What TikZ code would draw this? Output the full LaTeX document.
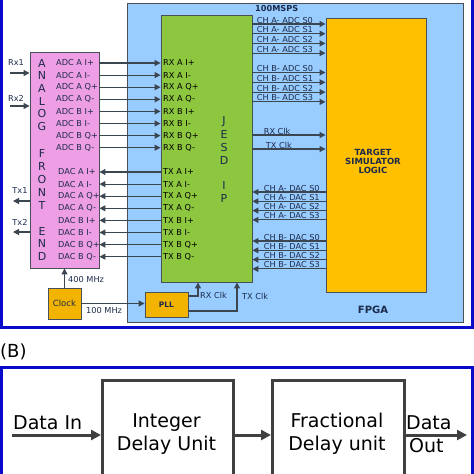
\documentclass[tikz,border=0pt]{standalone}
\usepackage{fontspec}
\setmainfont{DejaVu Sans}
\usetikzlibrary{arrows.meta}

\definecolor{Frame}{HTML}{0A0ACC}
\definecolor{Fpga}{HTML}{99CCFF}
\definecolor{Jesd}{HTML}{8DC63F}
\definecolor{Target}{HTML}{FFC000}
\definecolor{Afe}{HTML}{EE9EE4}
\definecolor{Osc}{HTML}{F2B400}
\definecolor{Wire}{HTML}{3C4650}
\definecolor{Edge}{HTML}{4A5058}
\definecolor{Ink}{HTML}{1C2A4A}
\definecolor{Heavy}{HTML}{404040}

\tikzset{
  blk/.style={draw=Edge, line width=0.9pt, inner sep=0pt},
  sig/.style={draw=Wire, line width=1.1pt, -{Triangle[length=6pt,width=6pt]}},
  small/.style={font=\fontsize{8.2}{9}\selectfont, text=Ink, inner sep=0pt},
  under/.style={small, anchor=south west, inner sep=0.6pt},
  letter/.style={font=\fontsize{11}{12}\selectfont, text=Ink, inner sep=0pt},
  bblk/.style={draw=Heavy, line width=3pt, inner sep=0pt, minimum width=131pt, minimum height=120pt, anchor=north west},
  bsig/.style={draw=Heavy, line width=3pt, -{Triangle[length=10pt,width=10pt]}},
  btxt/.style={font=\fontsize{19}{23}\selectfont, inner sep=0pt, text=black, align=center}
}

\begin{document}
\begin{tikzpicture}[x=1pt, y=-1pt]
 \useasboundingbox (0,0) rectangle (474,474);

 %%%%%%%%%% Panel frames %%%%%%%%%%
 \draw [Frame, line width=3pt] (1.5,-5) -- (1.5,327.5) -- (472,327.5) -- (472,-5) ;
 \draw [Frame, line width=3pt] (1.5,480) -- (1.5,367) -- (472,367) -- (472,480) ;

 %%%%%%%%%% Blocks of panel A %%%%%%%%%%
 \node [blk, fill=Fpga, minimum width=336pt, minimum height=319pt] (fpga) at (295,162.5) {};
 \node [blk, fill=Jesd, minimum width=91pt, minimum height=267pt] (jesd) at (206.5,148.5) {};
 \node [blk, fill=Target, minimum width=100pt, minimum height=274pt] (target) at (376,155) {};
 \node [blk, fill=Afe, minimum width=69pt, minimum height=216pt] (afe) at (64.5,160) {};
 \node [blk, fill=Osc, minimum width=33pt, minimum height=31pt, text=Ink, font=\fontsize{8.5}{10}\selectfont] (clock) at (64.5,303.5) {Clock};
 \node [blk, fill=Osc, minimum width=43pt, minimum height=25pt, text=Ink, font=\bfseries\fontsize{7.5}{9}\selectfont] (pll) at (166.5,304.5) {PLL};

 %%%%%%%%%% Block titles %%%%%%%%%%
 \foreach \c [count=\k from 0] in {A,N,A,L,O,G}
   \node [letter] (ana\k) at (42,{63+12.7*\k}) {\c};
 \foreach \c [count=\k from 0] in {F,R,O,N,T}
   \node [letter] (fro\k) at (42,{153+13*\k}) {\c};
 \foreach \c [count=\k from 0] in {E,N,D}
   \node [letter] (end\k) at (42,{231+12.7*\k}) {\c};
 \foreach \c [count=\k from 0] in {J,E,S,D}
   \node [letter] (jes\k) at (224,{122+12.7*\k}) {\c};
 \foreach \c [count=\k from 0] in {I,P}
   \node [letter] (ip\k) at (224,{185+13*\k}) {\c};

 \node [font=\bfseries\fontsize{8.5}{9}\selectfont, text=Ink, align=center] (targettxt) at (373,161) {TARGET\\SIMULATOR\\LOGIC};
 \node [font=\bfseries\fontsize{10}{12}\selectfont, text=Ink] (fpgatxt) at (373,310) {FPGA};
 \node [small, anchor=west] (msps) at (255,9) {\textbf{100MSPS}};

 %%%%%%%%%% AFE <-> JESD lanes %%%%%%%%%%
 \foreach \n/\t in {0/A I+,1/A I-,2/A Q+,3/A Q-,4/B I+,5/B I-,6/B Q+,7/B Q-}
 {
   \pgfmathsetmacro\ya{63+12.1*\n}
   \pgfmathsetmacro\yd{172+12.1*\n}
   \draw [sig] (afe.east |- 0,\ya) -- (jesd.west |- 0,\ya) ;
   \draw [sig] (jesd.west |- 0,\yd) -- (afe.east |- 0,\yd) ;
   \node [small, anchor=west] (adc\n) at (56,\ya) {ADC \t};
   \node [small, anchor=west] (dac\n) at (58,\yd) {DAC \t};
   \node [small, anchor=west, text=black] (rx\n) at (163,\ya) {RX \t};
   \node [small, anchor=west, text=black] (tx\n) at (163,\yd) {TX \t};
 }

 %%%%%%%%%% JESD <-> target channels %%%%%%%%%%
 \foreach \n in {0,...,3}
 {
   \pgfmathsetmacro\yaa{24+9.7*\n}
   \pgfmathsetmacro\yab{72.5+9.8*\n}
   \pgfmathsetmacro\yda{192+9.3*\n}
   \pgfmathsetmacro\ydb{241+9.3*\n}
   \draw [sig] (jesd.east |- 0,\yaa) -- (target.west |- 0,\yaa) ;
   \draw [sig] (jesd.east |- 0,\yab) -- (target.west |- 0,\yab) ;
   \draw [sig] (target.west |- 0,\yda) -- (jesd.east |- 0,\yda) ;
   \draw [sig] (target.west |- 0,\ydb) -- (jesd.east |- 0,\ydb) ;
   \node [under] (chaadc\n) at (256,\yaa) {CH A- ADC S\n};
   \node [under] (chbadc\n) at (256,\yab) {CH B- ADC S\n};
   \node [under] (chadac\n) at (263,\yda) {CH A- DAC S\n};
   \node [under] (chbdac\n) at (263,\ydb) {CH B- DAC S\n};
 }

 \draw [sig] (jesd.east |- 0,135) -- (target.west |- 0,135) ;
 \draw [sig] (jesd.east |- 0,149) -- (target.west |- 0,149) ;
 \node [under] (rxclk) at (263,135) {RX Clk};
 \node [under] (txclk) at (265,149) {TX Clk};

 %%%%%%%%%% Analog ports %%%%%%%%%%
 \coordinate (rx1) at (10,73);
 \coordinate (rx2) at (10,106);
 \coordinate (tx1) at (13,201);
 \coordinate (tx2) at (13,232);
 \draw [sig] (rx1) -- (afe.west |- rx1) ;
 \draw [sig] (rx2) -- (afe.west |- rx2) ;
 \draw [sig] (afe.west |- tx1) -- (tx1) ;
 \draw [sig] (afe.west |- tx2) -- (tx2) ;
 \node [small] (rx1txt) at (16,63) {Rx1};
 \node [small] (rx2txt) at (16,98) {Rx2};
 \node [small] (tx1txt) at (20,191) {Tx1};
 \node [small] (tx2txt) at (20,222) {Tx2};

 %%%%%%%%%% Clocking %%%%%%%%%%
 \draw [sig] (clock.north) -- (afe.south) ;
 \draw [sig] (clock.east) -- (clock.east -| pll.west) ;
 \draw [sig] (pll.east |- 0,296) -| ([xshift=-8.5pt]jesd.south) ;
 \draw [sig] (pll.east |- 0,311) -| ([xshift=30.5pt]jesd.south) ;
 \node [small, anchor=west] (mhz400) at (68,280) {400 MHz};
 \node [small, anchor=north west] (mhz100) at (86,307) {100 MHz};
 \node [small, anchor=west] (pllrx) at (200,295) {RX Clk};
 \node [small, anchor=west] (plltx) at (242,296) {TX Clk};

 %%%%%%%%%% Panel B %%%%%%%%%%
 \node [anchor=west, inner sep=0pt, font=\fontsize{18}{20}\selectfont] (panelb) at (0,352) {(B)};
 \node [bblk] (intdel) at (101,379) {};
 \node [bblk, minimum width=132pt] (fracdel) at (271,379) {};
 \node [btxt] (inttxt) at (166.5,434) {Integer\\Delay Unit};
 \node [btxt] (fractxt) at (337,434) {Fractional\\Delay unit};

 \coordinate (datain) at (12,435);
 \coordinate (dataout) at (467,435);
 \draw [bsig] (datain) -- (intdel.west |- datain) ;
 \draw [bsig] (intdel.east |- datain) -- (fracdel.west |- datain) ;
 \draw [bsig] (fracdel.east |- datain) -- (dataout) ;
 \node [btxt, anchor=base west] (intxt) at (13,429) {Data In};
 \node [btxt, anchor=base west] (outtxt1) at (406,429) {Data};
 \node [btxt, anchor=base west] (outtxt2) at (409,452) {Out};

\end{tikzpicture}
\end{document}
